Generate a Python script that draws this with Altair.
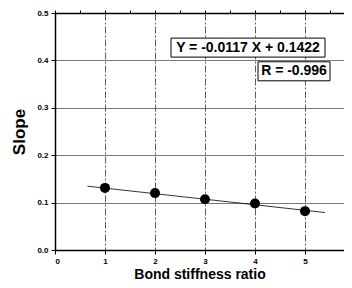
import altair as alt
import pandas as pd

ratio = [1, 2, 3, 4, 5]
slope = [0.131, 0.120, 0.107, 0.098, 0.082]

fit_x = [0.65, 5.4]
fit_y = [0.1346, 0.0790]

labels = ["Y = -0.0117 X + 0.1422", "R = -0.996"]
label_x = [3.86, 4.78]
label_y = [0.427, 0.377]
label_w = [154, 72]

pts = pd.DataFrame({"x": ratio, "y": slope})
fit = pd.DataFrame({"x": fit_x, "y": fit_y})
ann = pd.DataFrame({"t": labels, "x": label_x, "y": label_y, "w": label_w})

FONT = "Liberation Sans"
xs = alt.Scale(domain=[0, 5.78], nice=False, zero=False)
ys = alt.Scale(domain=[0, 0.5], nice=False)

xaxis = alt.Axis(values=[0, 1, 2, 3, 4, 5], format="d", grid=True, gridColor="#333",
                 gridDash=[7, 2, 2, 2], gridWidth=0.8, labelFontSize=8, labelFontWeight="bold",
                 labelColor="black", labelFont=FONT, tickColor="black", tickSize=4,
                 domainColor="black", domainWidth=1.5, title="Bond stiffness ratio",
                 titleFont=FONT, titleFontSize=14, titleFontWeight="bold", titleColor="black",
                 titlePadding=2, labelPadding=3)
yaxis = alt.Axis(values=[0, 0.1, 0.2, 0.3, 0.4, 0.5], format=".1f", grid=True, gridColor="#555",
                 gridWidth=0.8, labelFontSize=8, labelFontWeight="bold", labelColor="black",
                 labelFont=FONT, tickColor="black", tickSize=4, domainColor="black",
                 domainWidth=1.5, title="Slope", titleFont=FONT, titleFontSize=17,
                 titleFontWeight="bold", titleColor="black", titlePadding=8, labelPadding=3)

Y = alt.Y("y:Q", scale=ys, axis=yaxis)

base_pts = alt.Chart(pts).mark_circle(size=100, color="black", opacity=1).encode(
    x=alt.X("x:Q", scale=xs, axis=xaxis), y=Y)

line = alt.Chart(fit).mark_line(color="black", strokeWidth=0.8).encode(
    x=alt.X("x:Q", scale=xs, axis=None), y=Y)

top = alt.Chart(fit).mark_rule(opacity=0).encode(
    x=alt.X("x:Q", scale=xs, axis=alt.Axis(orient="top", values=[0, 0.5, 1, 1.5, 2, 2.5, 3, 3.5, 4, 4.5, 5, 5.5],
                                            labels=False, title="", grid=False, tickColor="black",
                                            tickSize=3, domainColor="black", domainWidth=1.5)),
    y=Y)

box_layers = []
for i in range(len(labels)):
    box_layers.append(
        alt.Chart(ann.iloc[[i]]).mark_rect(fill="white", stroke="black", strokeWidth=1,
                                           height=19, width=int(label_w[i])).encode(
            x=alt.X("x:Q", scale=xs, axis=None), y=Y))

texts = alt.Chart(ann).mark_text(font=FONT, fontSize=14, fontWeight="bold", color="black").encode(
    x=alt.X("x:Q", scale=xs, axis=None), y=Y, text="t:N")

chart = alt.layer(base_pts, line, top, *box_layers, texts).resolve_axis(x="independent").properties(
    width=289, height=237, padding={"left": 47, "top": 5, "right": 0, "bottom": 30},
    autosize=alt.AutoSizeParams(type="none"),
).configure_view(stroke=None).configure(background="white")

chart.save("out.html", embed_options={"renderer": "svg", "actions": False})
